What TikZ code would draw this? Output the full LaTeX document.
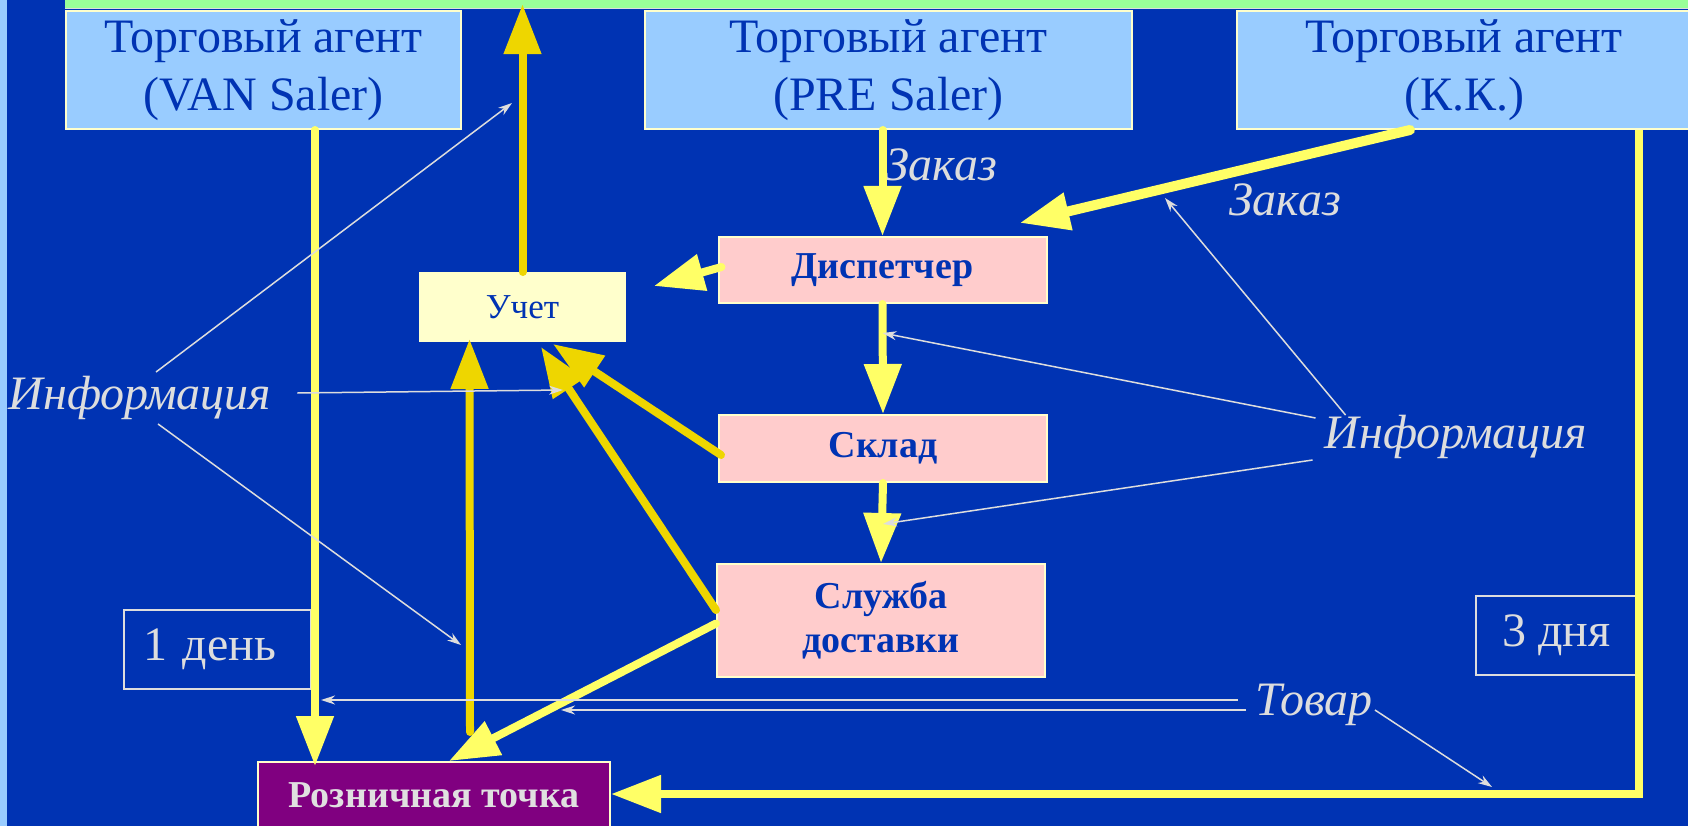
\documentclass[tikz,border=0pt]{standalone}
\usepackage{fontspec}
\setmainfont{Liberation Serif}
\usepackage{tikz}
\usetikzlibrary{arrows.meta}
\usetikzlibrary{positioning}

\definecolor{bgblue}{HTML}{0033B3}
\definecolor{stripblue}{HTML}{99CCFF}
\definecolor{bargreen}{HTML}{99FF99}
\definecolor{agentfill}{HTML}{99CCFF}
\definecolor{boxline}{HTML}{FFFFCC}
\definecolor{pinkfill}{HTML}{FFCCCC}
\definecolor{uchetfill}{HTML}{FFFFCC}
\definecolor{navy}{HTML}{0033B3}
\definecolor{brightyellow}{HTML}{FFFF66}
\definecolor{goldyellow}{HTML}{EED600}
\definecolor{palegray}{HTML}{DDDDDD}
\definecolor{retailfill}{HTML}{800080}
\definecolor{retailtext}{HTML}{E0E0E0}

\tikzset{
  agent/.style={draw=boxline, line width=2pt, fill=agentfill, text=navy,
    font=\fontsize{48}{58}\selectfont, align=center, minimum height=118pt, inner sep=0pt},
  proc/.style={draw=boxline, line width=2pt, fill=pinkfill, text=navy,
    font=\fontsize{38}{44}\selectfont\bfseries, align=center, minimum width=328pt, inner sep=0pt},
  note/.style={text=palegray, font=\fontsize{48}{52}\selectfont\itshape, inner sep=4pt},
  daybox/.style={draw=palegray, line width=1.5pt, text=palegray,
    font=\fontsize{48}{52}\selectfont, minimum height=79pt},
  flow/.style={draw=brightyellow, line width=8pt, line cap=round,
    -{Triangle[length=50pt,width=36pt]}},
  goldflow/.style={flow, draw=goldyellow},
  info/.style={draw=palegray, line width=1.5pt, -{Stealth[length=14pt,width=9pt]}}
}

\begin{document}
\begin{tikzpicture}[x=1pt,y=-1pt]
\useasboundingbox (0,0) rectangle (1688,826);
\clip (0,0) rectangle (1688,826);
\fill[bgblue] (0,0) rectangle (1688,826);
\fill[stripblue] (0,0) rectangle (7,826);
\node[fill=bargreen, minimum width=1623pt, minimum height=8pt, inner sep=0pt,
  anchor=north west] (bar) at (65,0) {};
\draw[palegray, line width=1.5pt] (bar.south west) -- (bar.south east);

\node[agent, minimum width=395pt] (van) at (263.5,70) {Торговый агент\\(VAN Saler)};
\node[agent, minimum width=487pt] (pre) at (888.5,70) {Торговый агент\\(PRE Saler)};
\node[agent, minimum width=455pt] (kk) at (1464,70) {Торговый агент\\(К.К.)};

\node[draw=boxline, line width=2pt, fill=uchetfill, text=navy,
  font=\fontsize{35}{40}\selectfont, minimum width=205pt, minimum height=68pt]
  (uchet) at (522.5,307) {Учет};
\node[proc, minimum height=66pt] (disp) at (882.5,270) {Диспетчер};
\node[proc, minimum height=67pt] (sklad) at (883,448.5) {Склад};
\node[proc, minimum height=113pt] (dost) at (881,620.5) {Служба\\доставки};
\node[proc, fill=retailfill, text=retailtext, minimum width=352pt, minimum height=66pt]
  (retail) at (434,795) {Розничная точка};

\node[daybox, text width=149pt, inner xsep=19pt, align=left] (day1) at (217.5,649.5) {1 день};
\node[daybox, minimum width=161pt] (day3) at (1556.5,635.5) {3 дня};

\node[note] (infoL) at (140,398) {Информация};
\node[note] (infoR) at (1456,437) {Информация};
\node[note] (order1) at (941,165) {Заказ};
\node[note] (order2) at (1285,200) {Заказ};
\node[note] (goods) at (1314,704.5) {Товар};

\draw[flow] ([xshift=51.5pt]van.south) -- ([xshift=-119pt,yshift=-5pt]retail.north);
\draw[flow] (pre.south -| disp.north) -- (disp.north);
\draw[flow, line width=10pt] ([xshift=-54pt]kk.south) -- ([xshift=-28pt,yshift=13pt]disp.north east);
\draw[flow] ([xshift=4pt,yshift=3pt]disp.west) -- ([xshift=28pt,yshift=21pt]uchet.east);
\draw[flow] (disp.south) -- (sklad.north);
\draw[flow] (sklad.south) -- (dost.north);
\draw[flow] ([yshift=-3pt]dost.west) -- ([xshift=15pt]retail.north);
\draw[flow, line cap=butt] ([xshift=-54pt]kk.south east) |- ([yshift=1pt]retail.east);
\draw[goldflow] ([xshift=3pt,yshift=-6.5pt]sklad.west) -- ([xshift=30.5pt,yshift=-2pt]uchet.south);
\draw[goldflow] ([yshift=10.5pt]dost.west) -- ([xshift=18.5pt,yshift=-5pt]uchet.south);
\draw[goldflow] ([xshift=36pt,yshift=29pt]retail.north) -- ([xshift=-53pt,yshift=3pt]uchet.south);
\draw[goldflow] (uchet.north) -- (uchet.north |- bar.center);

\coordinate (tipA) at (512,103);
\coordinate (tipB) at (563,390);
\coordinate (tipC) at (461,645);
\coordinate (tipE) at (1165,198);
\coordinate (tipG) at (321,700);
\coordinate (tipH) at (561,710);
\coordinate (tipI) at (1492,787);
\draw[info] ([xshift=16pt]infoL.north) -- (tipA);
\draw[info] ([xshift=22pt,yshift=5pt]infoL.east) -- (tipB);
\draw[info] ([xshift=18pt]infoL.south) -- (tipC);
\draw[info] ([xshift=-5pt,yshift=19pt]infoR.west) -- ([yshift=-29pt]disp.south);
\draw[info] ([xshift=25pt,yshift=-4pt]infoR.north west) -- (tipE);
\draw[info] ([xshift=-8pt,yshift=-23pt]infoR.west) -- ([yshift=-41pt]sklad.south);
\draw[info] ([xshift=-13pt,yshift=4.5pt]goods.west) -- (tipG);
\draw[info] ([xshift=-5pt,yshift=-5.5pt]goods.west) -- (tipH);
\draw[info] ([xshift=-2pt,yshift=-5.5pt]goods.east) -- (tipI);
\end{tikzpicture}
\end{document}
